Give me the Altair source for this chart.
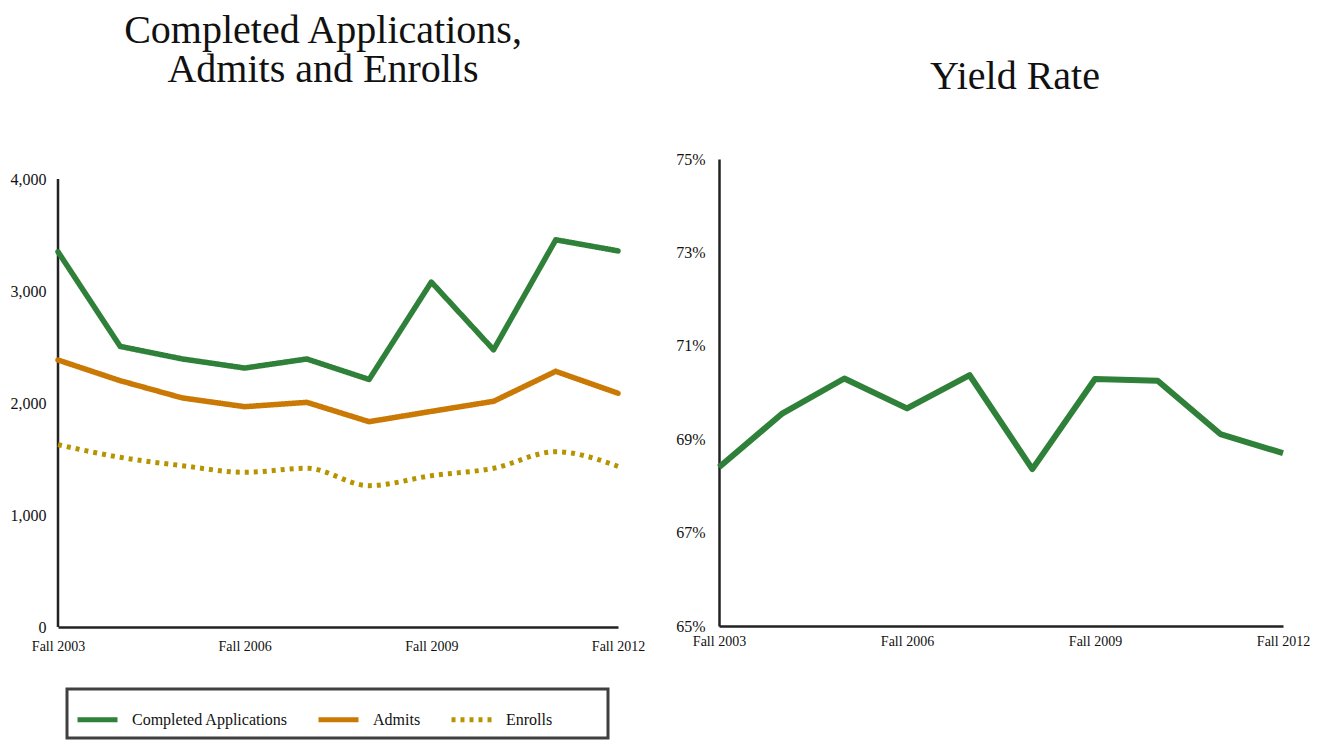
import altair as alt
import pandas as pd

# ---------------- data ----------------
terms = ["Fall 2003", "Fall 2004", "Fall 2005", "Fall 2006", "Fall 2007",
         "Fall 2008", "Fall 2009", "Fall 2010", "Fall 2011", "Fall 2012"]
tick_terms = ["Fall 2003", "Fall 2006", "Fall 2009", "Fall 2012"]
series_names = ["Completed Applications", "Admits", "Enrolls"]

completed_apps = [3350, 2505, 2393, 2312, 2393, 2210, 3080, 2475, 3457, 3358]
admits = [2384, 2199, 2045, 1967, 2006, 1833, 1925, 2015, 2283, 2087]
enrolls = [1628, 1515, 1440, 1381, 1417, 1262, 1351, 1417, 1565, 1435]
yield_rate = [0.6840, 0.6954, 0.7030, 0.6966, 0.7037, 0.6836, 0.7029, 0.7025, 0.6911, 0.6870]

count_ticks = [0, 1000, 2000, 3000, 4000]
yield_ticks = [0.65, 0.67, 0.69, 0.71, 0.73, 0.75]

colors = ["#2f8038", "#cb7905", "#b59400"]
dashes = [[1, 0], [1, 0], [4, 5]]

FONT = "Liberation Serif"

# left panel is drawn 20px taller than its axis so that the yield panel sits higher
LEFT_H = 468
AXIS_H = 448
count_top = count_ticks[-1] * LEFT_H / AXIS_H

rows = []
for name, vals in zip(series_names, [completed_apps, admits, enrolls]):
    for t, v in zip(terms, vals):
        rows.append({"term": t, "series": name, "value": v})
df = pd.DataFrame(rows)
df_y = pd.DataFrame({"term": terms, "rate": yield_rate})
df_axis = pd.DataFrame({"term": [terms[0]], "lo": [count_ticks[0]], "hi": [count_ticks[-1]]})


def x_enc(pad):
    return alt.X("term:O", sort=terms, title=None,
                 scale=alt.Scale(type="point", padding=0),
                 axis=alt.Axis(values=tick_terms, labelAngle=0, ticks=False,
                               labelPadding=pad, labelFontSize=14, labelFont=FONT,
                               labelColor="#111", domainColor="#222", domainWidth=2.5))


legend = alt.Legend(title="\u00a0", titleOrient="right", titlePadding=48,
                    orient="none", legendX=9, legendY=530,
                    direction="horizontal", symbolType="stroke", symbolSize=1600,
                    symbolStrokeWidth=5, labelFontSize=16, labelFont=FONT,
                    labelColor="#111", columnPadding=20, labelOffset=12,
                    padding=8, strokeColor="#404040")

color_enc = alt.Color("series:N", scale=alt.Scale(domain=series_names, range=colors),
                      legend=legend)
dash_enc = alt.StrokeDash("series:N", scale=alt.Scale(domain=series_names, range=dashes),
                          legend=legend)
y_count = alt.Y("value:Q", title=None,
                scale=alt.Scale(domain=[0, count_top], nice=False),
                axis=alt.Axis(values=count_ticks, format=",.0f", ticks=False, grid=False,
                              domain=False, labelPadding=12, labelFontSize=16,
                              labelFont=FONT, labelColor="#111"))

base = alt.Chart(df)
axis_line = alt.Chart(df_axis).mark_rule(color="#222", strokeWidth=2.5).encode(
    x=x_enc(12), y=alt.Y("lo:Q", scale=alt.Scale(domain=[0, count_top], nice=False)),
    y2="hi:Q")
solid = base.transform_filter(alt.datum.series != "Enrolls").mark_line(
    strokeWidth=5.5, strokeCap="round", strokeJoin="round"
).encode(x=x_enc(12), y=y_count, color=color_enc, strokeDash=dash_enc,
         detail="series:N")
dotted = base.transform_filter(alt.datum.series == "Enrolls").mark_line(
    strokeWidth=5, strokeCap="butt", interpolate="monotone"
).encode(x=x_enc(12), y=y_count, color=color_enc, strokeDash=dash_enc)

left = alt.layer(axis_line, solid, dotted).properties(
    width=560, height=LEFT_H,
    title=alt.TitleParams(["Completed Applications,", "Admits and Enrolls"],
                          fontSize=40, font=FONT, fontWeight="normal", color="#111",
                          lineHeight=39, offset=69, dx=-15)
)

right = alt.Chart(df_y).mark_line(strokeWidth=6, strokeJoin="round",
                                  color=colors[0]).encode(
    x=x_enc(8),
    y=alt.Y("rate:Q", title=None, scale=alt.Scale(domain=[0.65, 0.75], nice=False),
            axis=alt.Axis(values=yield_ticks, format=".0%", ticks=False, grid=False,
                          labelPadding=14, labelFontSize=16, labelFont=FONT,
                          labelColor="#111", domainColor="#222", domainWidth=2.5))
).properties(
    width=564, height=467,
    title=alt.TitleParams("Yield Rate", fontSize=40, font=FONT,
                          fontWeight="normal", color="#111",
                          offset=54, dx=14)
)

chart = alt.hconcat(left, right, spacing=30).properties(
    padding={"left": 2, "top": 3, "right": 5, "bottom": 5}
).configure_view(stroke=None).configure_legend(strokeWidth=3)

chart.save("out.html", embed_options={"renderer": "svg", "actions": False})
